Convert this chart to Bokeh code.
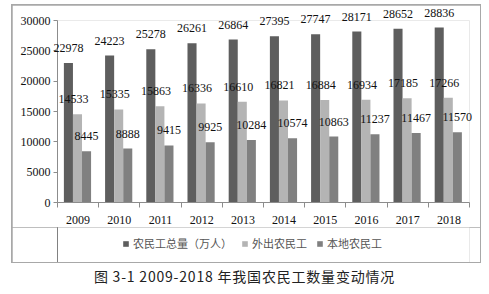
from bokeh.plotting import figure
from bokeh.models import Range1d, FixedTicker, ColumnDataSource, Legend, LegendItem, Div
from bokeh.layouts import column
from bokeh.embed import file_html
from bokeh.resources import INLINE

years = ["2009", "2010", "2011", "2012", "2013", "2014", "2015", "2016", "2017", "2018"]
total = [22978, 24223, 25278, 26261, 26864, 27395, 27747, 28171, 28652, 28836]
migrant = [14533, 15335, 15863, 16336, 16610, 16821, 16884, 16934, 17185, 17266]
local = [8445, 8888, 9415, 9925, 10284, 10574, 10863, 11237, 11467, 11570]
series_names = ["农民工总量（万人）", "外出农民工", "本地农民工"]
y_ticks = [0, 5000, 10000, 15000, 20000, 25000, 30000]
caption = "图 3-1 2009-2018 年我国农民工数量变动情况"

colors = ["#5e5e5e", "#b4b4b4", "#808080"]
offsets = [-0.235, -0.015, 0.205]
label_dx = [0, -4, 0]
width = 0.22
serif = "Liberation Serif"

# main chart
p = figure(width=468, height=222, output_backend="svg", toolbar_location=None,
           x_range=Range1d(-0.5, 9.5), y_range=Range1d(0, 30000),
           min_border_left=45, min_border_right=11, min_border_top=15, min_border_bottom=25,
           margin=(1, 1, 0, 1))
p.title.visible = False
p.xgrid.visible = False
p.ygrid.visible = False
p.outline_line_color = None

# legend strip (its view range lies away from the bars, so only the legend shows)
p2 = figure(width=468, height=35, output_backend="svg", toolbar_location=None,
            x_range=Range1d(20, 21), y_range=Range1d(0, 1), x_axis_type=None, y_axis_type=None,
            min_border=0, min_border_left=0, min_border_right=0, min_border_top=0, min_border_bottom=0,
            margin=(0, 1, 1, 1))
p2.title.visible = False
p2.grid.visible = False
p2.outline_line_color = None

items = []
idx = list(range(len(years)))
for k, vals in enumerate([total, migrant, local]):
    src = ColumnDataSource(dict(x=[i + offsets[k] for i in idx], top=vals,
                                txt=[str(v) for v in vals]))
    p.vbar(x="x", top="top", width=width, source=src, fill_color=colors[k], line_color=None)
    p.text(x="x", y="top", text="txt", source=src, text_align="center", text_baseline="middle",
           y_offset=-15, x_offset=label_dx[k], text_font=serif, text_font_size="12px",
           text_color="#111111", level="overlay")
    r2 = p2.vbar(x="x", top="top", width=width, source=src, fill_color=colors[k], line_color=None)
    items.append(LegendItem(label=series_names[k], renderers=[r2]))

xa = p.xaxis[0]
xa.ticker = FixedTicker(ticks=idx, minor_ticks=[i - 0.5 for i in range(len(years) + 1)])
xa.major_label_overrides = {i: y for i, y in enumerate(years)}
xa.major_tick_line_color = None
xa.major_tick_out = 0
xa.major_tick_in = 0
xa.minor_tick_out = 5
xa.minor_tick_in = 0
xa.minor_tick_line_color = "#8c8c8c"
xa.axis_line_color = "#8c8c8c"
xa.major_label_standoff = 8
xa.major_label_text_font = serif
xa.major_label_text_font_size = "12px"
xa.major_label_text_color = "#111111"

ya = p.yaxis[0]
ya.ticker = FixedTicker(ticks=y_ticks)
ya.major_tick_out = 4
ya.major_tick_in = 0
ya.minor_tick_line_color = None
ya.major_tick_line_color = "#8c8c8c"
ya.axis_line_color = "#8c8c8c"
ya.major_label_standoff = 3
ya.major_label_text_font = serif
ya.major_label_text_font_size = "12px"
ya.major_label_text_color = "#111111"

legend = Legend(items=items, location=(65, 11), orientation="horizontal",
                border_line_color=None, background_fill_alpha=0, padding=0, margin=0,
                spacing=9, label_standoff=4, glyph_width=7, glyph_height=7,
                label_text_font="Noto Sans CJK SC", label_text_font_size="11px",
                label_height=14, label_text_color="#555555")
p2.add_layout(legend)

framed = column(p, p2, spacing=0, margin=(4, 0, 0, 11),
                styles={"background-color": "#a8a8a8"})

cap = Div(text=caption, width=489, height=24, margin=(5, 0, 0, 0),
          styles={"text-align": "center", "font-family": "Noto Sans CJK SC",
                  "font-size": "14px", "letter-spacing": "0.8px", "color": "#222222",
                  "width": "489px", "line-height": "16px"})

layout = column(framed, cap, spacing=0)
open("out.html", "w").write(file_html(layout, INLINE))
